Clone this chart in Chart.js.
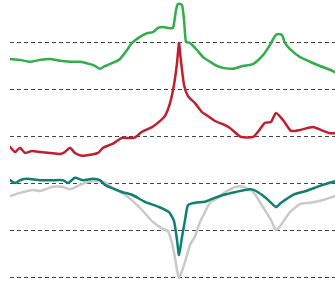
<!DOCTYPE html>
<html>
<head>
<meta charset="utf-8">
<script src="https://cdn.jsdelivr.net/npm/chart.js@4"></script>
<style>
html,body{margin:0;padding:0;background:#fff;}
#wrap{width:335px;height:286px;}
</style>
</head>
<body>
<div id="wrap"><canvas id="c" width="335" height="286"></canvas></div>
<script>
// Data (x = sample position, y = value; grid lines at 0,10,...,50)
const gridValues = [0, 10, 20, 30, 40, 50];

const greenX = [0,10,20,30,40,50,60,70,80,85,90,95,102,110,117,122,130,137,143,148,153,158,163,166,168,172,174,176,180,187,193,200,207,213,223,233,243,253,260,265,268,272,275,280,290,300,310,320,325];
const greenY = [46.5,46.3,45.9,46.3,46.5,46.1,45.9,45.9,45.4,45.0,44.4,45.0,45.6,46.5,48.4,49.9,51.2,52.0,52.2,53.1,53.3,53.1,53.1,56.9,58.2,58.0,54.8,50.1,49.9,48.4,46.9,45.9,45.0,44.6,44.4,45.0,45.4,47.3,49.5,51.4,51.8,51.6,49.9,48.6,46.9,45.9,45.0,44.2,43.7];

const redX = [0,5,10,15,22,30,40,50,55,60,65,72,80,88,93,100,104,112,124,132,142,149,155,160,164,167,169,170.5,174,178,185,192,199,205,214,220,226,231,243,248,255,261,266,273,281,290,303,313,320,325];
const redY = [27.8,26.7,27.6,26.5,26.9,26.7,26.5,26.3,26.7,27.6,26.5,25.9,26.1,26.5,27.6,28.2,28.6,29.7,29.7,31.0,32.0,33.1,34.4,37.1,41.0,45.6,49.9,46.9,41.0,38.6,37.1,35.2,34.2,33.3,32.5,31.8,30.7,29.9,29.9,31.0,32.9,33.1,35.0,33.5,31.2,31.4,32.0,31.2,30.7,30.7];

const tealX = [0,5,10,17,30,43,53,58,65,73,83,90,95,102,112,122,135,149,159,164,167,169,172,175,178,185,195,204,214,226,240,246,256,266,271,283,296,310,325];
const tealY = [20.7,20.1,20.7,21.0,20.7,20.7,20.7,20.1,21.2,20.7,21.0,20.7,19.7,19.0,18.2,17.6,16.1,15.0,13.9,12.0,8.0,4.8,8.6,12.2,15.4,15.9,16.1,16.9,17.6,18.2,18.8,18.4,16.9,15.0,15.9,17.6,18.4,19.5,20.5];

const grayX = [0,10,23,30,43,52,60,70,78,90,96,103,117,130,143,153,158,162,165,167,169,172,175,180,185,190,194,200,209,214,226,233,243,253,261,266,271,280,290,300,313,325];
const grayY = [17.3,18.0,18.6,18.4,19.3,19.3,18.8,19.7,20.3,20.5,20.1,19.0,17.3,14.8,11.8,10.3,9.9,7.3,4.2,1.6,-0.1,1.4,3.3,6.9,8.8,11.8,13.5,15.9,17.1,18.0,19.3,19.3,18.2,15.0,12.2,10.1,11.2,13.9,15.6,15.9,16.5,17.3];

const pts = (xs, ys) => xs.map((x, i) => ({x: x, y: ys[i]}));

const common = {fill: false, pointRadius: 0, borderWidth: 2.5, tension: 0.2, borderJoinStyle: 'round', borderCapStyle: 'round'};

new Chart(document.getElementById('c'), {
  type: 'line',
  data: {
    datasets: [
      Object.assign({label: 'green', data: pts(greenX, greenY), borderColor: '#2fae4b'}, common),
      Object.assign({label: 'red', data: pts(redX, redY), borderColor: '#bf1f2f'}, common),
      Object.assign({label: 'teal', data: pts(tealX, tealY), borderColor: '#0f7f76'}, common),
      Object.assign({label: 'gray', data: pts(grayX, grayY), borderColor: '#c9c9c9'}, common)
    ]
  },
  options: {
    responsive: false,
    animation: false,
    layout: {padding: {left: 10, right: 0, top: 0, bottom: 0}},
    plugins: {legend: {display: false}, tooltip: {enabled: false}},
    scales: {
      x: {type: 'linear', min: 0, max: 325, display: false},
      y: {
        type: 'linear', min: -1.81, max: 59.04,
        afterBuildTicks: (scale) => { scale.ticks = gridValues.map(v => ({value: v})); },
        ticks: {display: false},
        border: {display: false},
        grid: {color: '#444', lineWidth: 1, drawTicks: false, tickLength: 0},
        border: {display: false, dash: [4, 3]}
      }
    }
  }
});
</script>
</body>
</html>
